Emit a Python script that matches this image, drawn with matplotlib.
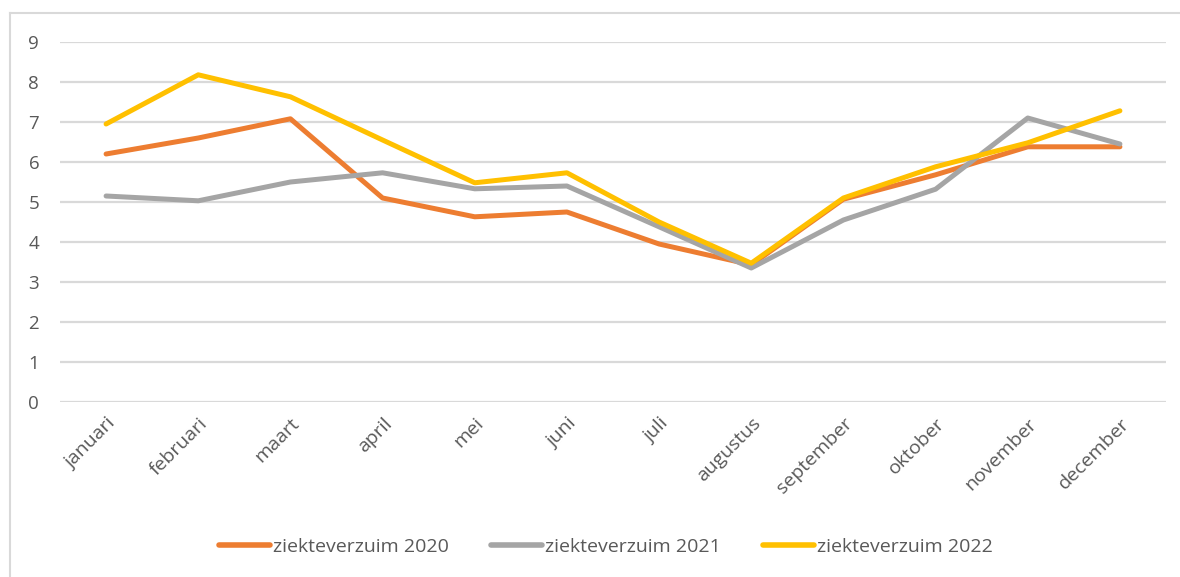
import matplotlib
matplotlib.use("Agg")
import matplotlib.pyplot as plt
from matplotlib.lines import Line2D

plt.rcParams["font.family"] = ["Open Sans", "DejaVu Sans"]

months = ["januari", "februari", "maart", "april", "mei", "juni", "juli",
          "augustus", "september", "oktober", "november", "december"]
verzuim_2020 = [6.2, 6.6, 7.08, 5.1, 4.63, 4.75, 3.95, 3.43, 5.07, 5.68, 6.38, 6.38]
verzuim_2021 = [5.15, 5.03, 5.5, 5.73, 5.33, 5.4, 4.38, 3.35, 4.55, 5.32, 7.1, 6.45]
verzuim_2022 = [6.95, 8.18, 7.63, 6.55, 5.48, 5.73, 4.5, 3.47, 5.1, 5.88, 6.48, 7.28]

labels = ["ziekteverzuim 2020", "ziekteverzuim 2021", "ziekteverzuim 2022"]
colors = ["#ED7D31", "#A5A5A5", "#FFC000"]

fig = plt.figure(figsize=(11.8, 5.77), dpi=100)
ax = fig.add_axes([60 / 1180, 1 - 402 / 577, 1106 / 1180, 360 / 577])

x = range(len(months))
for vals, lab, col in zip([verzuim_2020, verzuim_2021, verzuim_2022], labels, colors):
    ax.plot(x, vals, color=col, lw=3.6, label=lab, solid_capstyle="round",
            solid_joinstyle="round", zorder=3)

ax.set_xlim(-0.5, 11.5)
ax.set_ylim(0, 9)
ax.set_yticks(range(10))
ax.grid(axis="y", color="#d9d9d9", lw=1.6, zorder=0)
for s in ax.spines.values():
    s.set_visible(False)
ax.tick_params(length=0, colors="#595959")
ax.tick_params(axis="y", pad=15, labelsize=13.5)
ax.set_xticks(list(x))
ax.set_xticklabels(months, rotation=45, ha="right", rotation_mode="anchor")
ax.tick_params(axis="x", pad=9, labelsize=14)

# chart frame (only top and left edges visible in the crop)
fig.add_artist(Line2D([10 / 1180, 10 / 1180], [0, 1 - 13 / 577], color="#d9d9d9", lw=1.5))
fig.add_artist(Line2D([10 / 1180, 1], [1 - 13 / 577, 1 - 13 / 577], color="#d9d9d9", lw=1.5))

handles = [Line2D([], [], color=c, lw=4, solid_capstyle="round") for c in colors]
fig.legend(handles, labels, loc="center", bbox_to_anchor=(606 / 1180, 1 - 547 / 577),
           ncol=3, frameon=False, fontsize=14, handlelength=2.6, handletextpad=0.15,
           columnspacing=2.2, labelcolor="#595959")

fig.savefig("out.png", dpi=100)
